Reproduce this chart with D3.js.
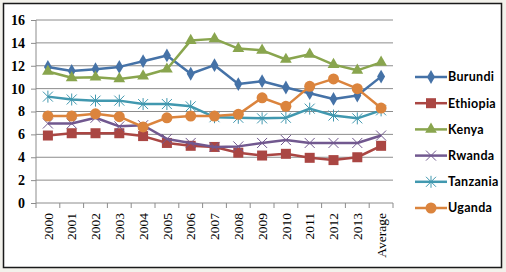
<!DOCTYPE html>
<html>
<head>
<meta charset="utf-8">
<script src="https://cdn.jsdelivr.net/npm/d3@7"></script>
<style>
    body { margin: 0; background: #f2f1eb; }
    #chart { width: 506px; height: 272px; }
</style>
</head>
<body>
<div id="chart"></div>
<script>
// Categories along the x axis
const years = ["2000", "2001", "2002", "2003", "2004", "2005", "2006", "2007",
               "2008", "2009", "2010", "2011", "2012", "2013", "Average"];

// Series values
const burundi  = [11.9, 11.55, 11.7, 11.9, 12.4, 12.9, 11.3, 12.05, 10.4, 10.65, 10.1, 9.6, 9.1, 9.4, 11.05];
const ethiopia = [5.9, 6.1, 6.1, 6.1, 5.85, 5.25, 5.0, 4.9, 4.4, 4.15, 4.3, 3.95, 3.75, 4.0, 5.0];
const kenya    = [11.5, 10.95, 11.0, 10.85, 11.1, 11.7, 14.2, 14.35, 13.5, 13.35, 12.55, 13.0, 12.1, 11.6, 12.3];
const rwanda   = [6.95, 6.95, 7.45, 6.7, 6.8, 5.6, 5.25, 4.9, 4.95, 5.25, 5.5, 5.25, 5.25, 5.25, 5.9];
const tanzania = [9.3, 9.05, 8.95, 8.95, 8.65, 8.65, 8.45, 7.5, 7.45, 7.4, 7.45, 8.25, 7.65, 7.4, 8.1];
const uganda   = [7.6, 7.6, 7.8, 7.55, 6.65, 7.45, 7.6, 7.6, 7.75, 9.2, 8.45, 10.2, 10.85, 10.0, 8.3];

const yTicks = [0, 2, 4, 6, 8, 10, 12, 14, 16];

const series = [
    {name: "Burundi",  values: burundi,  color: "#4572A7", marker: "diamond"},
    {name: "Ethiopia", values: ethiopia, color: "#AA4643", marker: "square"},
    {name: "Kenya",    values: kenya,    color: "#89A54E", marker: "triangle"},
    {name: "Rwanda",   values: rwanda,   color: "#71588F", marker: "x"},
    {name: "Tanzania", values: tanzania, color: "#4198AF", marker: "star"},
    {name: "Uganda",   values: uganda,   color: "#DB843D", marker: "circle"}
];

const serif = "'Liberation Serif', 'Times New Roman', serif";

const width = 506, height = 272;
const margin = {top: 20, right: 113, bottom: 69, left: 36};

const svg = d3.select("#chart").append("svg")
    .attr("width", width)
    .attr("height", height);

// Chart frame
svg.append("rect")
    .attr("x", 3.5).attr("y", 3.5)
    .attr("width", 498).attr("height", 264)
    .attr("fill", "#fff")
    .attr("stroke", "#1a1a1a")
    .attr("stroke-width", 1.5);

const g = svg.append("g")
    .attr("transform", `translate(${margin.left}, ${margin.top})`);

const w = width - margin.left - margin.right;
const h = height - margin.top - margin.bottom;

const x = d3.scaleBand().domain(years).range([0, w]);
const y = d3.scaleLinear().domain([0, 16]).range([h, 0]);

// Gridlines
g.selectAll(".grid")
    .data(yTicks.slice(1))
    .enter().append("line")
    .attr("x1", 0).attr("x2", w)
    .attr("y1", d => y(d)).attr("y2", d => y(d))
    .attr("stroke", "#8c8c8c")
    .attr("stroke-width", 1);

// Y axis
const yAxis = g.append("g")
    .call(d3.axisLeft(y).tickValues(yTicks).tickSize(5).tickPadding(6));
yAxis.attr("font-family", null);
yAxis.selectAll("text")
    .style("font-family", serif)
    .style("font-size", "14px")
    .style("font-weight", "bold")
    .attr("fill", "#000");
yAxis.selectAll("line, path").attr("stroke", "#8c8c8c");
yAxis.select(".domain").attr("d", `M0,${y(16)}V${h}`);

// X axis, ticks on category boundaries
const xAxis = g.append("g")
    .attr("transform", `translate(0, ${h})`)
    .call(d3.axisBottom(x).tickSize(0).tickPadding(0));
xAxis.attr("font-family", null);
xAxis.select(".domain").attr("stroke", "#8c8c8c").attr("d", `M0,0H${w}`);
xAxis.selectAll("text")
    .style("font-family", serif)
    .style("font-size", "13.5px")
    .attr("fill", "#000")
    .attr("text-anchor", "end")
    .attr("dy", "0.35em")
    .attr("transform", "translate(0, 10) rotate(-90)");
g.selectAll(".xtick")
    .data(years.concat(["end"]))
    .enter().append("line")
    .attr("x1", (d, i) => i * x.step()).attr("x2", (d, i) => i * x.step())
    .attr("y1", h).attr("y2", h + 5)
    .attr("stroke", "#8c8c8c");

// Marker shapes
function marker(sel, type, color) {
    if (type === "diamond") {
        sel.append("path").attr("d", d3.symbol(d3.symbolDiamond, 55)())
            .attr("fill", color);
    } else if (type === "square") {
        sel.append("rect").attr("x", -5).attr("y", -5).attr("width", 10).attr("height", 10)
            .attr("fill", color);
    } else if (type === "triangle") {
        sel.append("path").attr("d", d3.symbol(d3.symbolTriangle, 60)())
            .attr("fill", color);
    } else if (type === "circle") {
        sel.append("circle").attr("r", 5.5).attr("fill", color);
    } else if (type === "x") {
        sel.append("path").attr("d", "M-5,-5L5,5M-5,5L5,-5")
            .attr("stroke", color).attr("stroke-width", 1).attr("fill", "none");
    } else if (type === "star") {
        sel.append("path").attr("d", "M-5,-5L5,5M-5,5L5,-5M0,-6V6")
            .attr("stroke", color).attr("stroke-width", 1).attr("fill", "none");
    }
}

const line = d3.line()
    .x((d, i) => x(years[i]) + x.bandwidth() / 2)
    .y(d => y(d));

series.forEach(s => {
    g.append("path")
        .datum(s.values)
        .attr("d", line)
        .attr("fill", "none")
        .attr("stroke", s.color)
        .attr("stroke-width", 2.5)
        .attr("stroke-linejoin", "round");

    s.values.forEach((v, i) => {
        const m = g.append("g")
            .attr("transform", `translate(${x(years[i]) + x.bandwidth() / 2}, ${y(v)})`);
        marker(m, s.marker, s.color);
    });
});

// Legend
const legend = svg.append("g").attr("transform", "translate(415, 77)");
series.forEach((s, i) => {
    const row = legend.append("g").attr("transform", `translate(0, ${i * 26.2})`);
    row.append("line")
        .attr("x1", 0).attr("x2", 32)
        .attr("stroke", s.color).attr("stroke-width", 2.5);
    const m = row.append("g").attr("transform", "translate(16, 0)");
    marker(m, s.marker, s.color);
    row.append("text")
        .attr("x", 33).attr("y", 0).attr("dy", "0.35em")
        .style("font-family", "Lato, 'Open Sans', sans-serif")
        .style("font-size", "12.5px")
        .style("font-weight", "bold")
        .style("letter-spacing", "0.3px")
        .attr("fill", "#000")
        .text(s.name);
});
</script>
</body>
</html>
